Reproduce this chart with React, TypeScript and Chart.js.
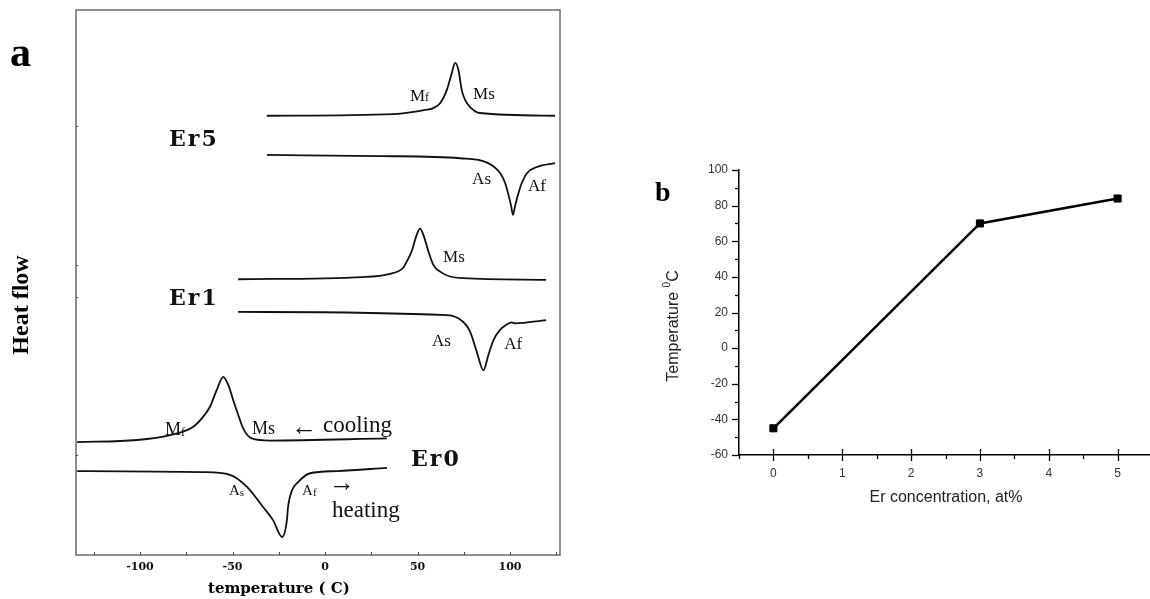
import React, { useEffect, useRef } from 'react';
import { Chart, registerables } from 'chart.js';
Chart.register(...registerables);

// ---------------- Panel a: DSC curves (temperature °C, heat flow a.u.) ----------------
const ER5_COOL_T = [-31.5, 36.9, 55, 58.5, 62.2, 65.8, 68.5, 70.3, 72.1, 73.9, 75.7, 78.4, 83.8, 124.3];
const ER5_COOL_H = [80.6, 80.9, 81.7, 82.0, 82.9, 85.3, 88.4, 90.3, 89.0, 85.3, 83.5, 82.2, 81.1, 80.6];
const ER5_HEAT_T = [-31.4, 30, 73, 87.6, 94.6, 97.3, 98.9, 100.5, 101.6, 102.7, 104.3, 106.5, 109.2, 114.6, 124.3];
const ER5_HEAT_H = [73.4, 73.2, 72.8, 72.0, 70.1, 68.3, 66.4, 64.2, 62.4, 64.0, 66.1, 68.4, 70.1, 71.2, 71.9];

const ER1_COOL_T = [-47, 20.5, 35.1, 42.2, 44.1, 46.8, 49.5, 51.4, 53.2, 55.9, 58.6, 62.2, 67.6, 74.8, 119.5];
const ER1_COOL_H = [50.6, 51.0, 51.6, 52.7, 53.8, 55.7, 58.7, 59.9, 58.7, 55.7, 53.2, 52.0, 51.1, 50.8, 50.5];
const ER1_HEAT_T = [-47, 66, 74.6, 78.4, 82, 85.6, 88.3, 91, 94.6, 98.2, 100.9, 102.7, 119.5];
const ER1_HEAT_H = [44.6, 44.0, 42.8, 41.0, 37.3, 33.9, 36.7, 39.4, 41.3, 42.3, 42.7, 42.5, 43.1];

const ER0_COOL_T = [-134, -101.6, -83.8, -71.4, -65.8, -62.2, -58.5, -55, -52.3, -49.6, -46.9, -44.2, -39.6, -29.7, 33.4];
const ER0_COOL_H = [20.7, 21.1, 22.0, 23.5, 25.4, 27.2, 30.3, 32.7, 31.2, 28.4, 25.7, 23.2, 21.4, 21.0, 21.4];
const ER0_HEAT_T = [-134, -66, -51.4, -42.2, -33.5, -28.1, -23.2, -20.6, -20, -17.8, -15.1, -8.1, 6.5, 33.5];
const ER0_HEAT_H = [15.4, 15.2, 14.7, 12.5, 8.8, 6.4, 3.3, 6.4, 8.8, 11.9, 13.2, 15.0, 15.4, 16.0];

const TEMP_MIN = -134.6;
const TEMP_MAX = 127;
const HEAT_MIN = 0;
const HEAT_MAX = 100;
const HEAT_TICKS = [18.3, 47.3, 53.2, 78.7];

// ---------------- Panel b: transformation temperature vs Er content ----------------
const ER_CONC = [0, 3, 5];
const TRANS_TEMP = [-45, 70, 84];

const SERIF = "'Liberation Serif', 'Times New Roman', serif";
const WSERIF = "'DejaVu Serif', serif";
const SANS = "'Liberation Sans', Arial, sans-serif";

type Seg = { t: string; size: number; dy?: number };
type Lab = { segs: Seg[]; t: number; h: number; font: string; weight: string; spacing?: string };

// Text annotations in panel a, placed in data coordinates (temperature, heat flow)
const LABELS_A: Lab[] = [
  { segs: [{ t: 'Er5', size: 22 }], t: -84.3, h: 75.0, font: WSERIF, weight: 'bold', spacing: '2px' },
  { segs: [{ t: 'Er1', size: 22 }], t: -84.3, h: 45.9, font: WSERIF, weight: 'bold', spacing: '2px' },
  { segs: [{ t: 'Er0', size: 22 }], t: 46.5, h: 16.3, font: WSERIF, weight: 'bold', spacing: '2px' },
  { segs: [{ t: 'M', size: 17 }, { t: 'f', size: 12 }], t: 45.9, h: 83.3, font: SERIF, weight: 'normal' },
  { segs: [{ t: 'Ms', size: 17 }], t: 80.0, h: 83.7, font: SERIF, weight: 'normal' },
  { segs: [{ t: 'As', size: 17 }], t: 79.5, h: 68.1, font: SERIF, weight: 'normal' },
  { segs: [{ t: 'Af', size: 17 }], t: 109.7, h: 66.8, font: SERIF, weight: 'normal' },
  { segs: [{ t: 'Ms', size: 17 }], t: 63.8, h: 53.8, font: SERIF, weight: 'normal' },
  { segs: [{ t: 'As', size: 17 }], t: 57.8, h: 38.3, font: SERIF, weight: 'normal' },
  { segs: [{ t: 'Af', size: 17 }], t: 96.8, h: 37.8, font: SERIF, weight: 'normal' },
  { segs: [{ t: 'M', size: 18 }, { t: 'f', size: 12, dy: 1 }], t: -86.5, h: 22.0, font: SERIF, weight: 'normal' },
  { segs: [{ t: 'Ms', size: 18 }], t: -39.5, h: 22.2, font: SERIF, weight: 'normal' },
  { segs: [{ t: '←', size: 26 }], t: -18.2, h: 22.0, font: SERIF, weight: 'normal' },
  { segs: [{ t: 'cooling', size: 23 }], t: -1.1, h: 22.6, font: SERIF, weight: 'normal' },
  { segs: [{ t: 'A', size: 15 }, { t: 's', size: 11, dy: 1 }], t: -51.9, h: 11.0, font: SERIF, weight: 'normal' },
  { segs: [{ t: 'A', size: 15 }, { t: 'f', size: 11, dy: 1 }], t: -12.4, h: 11.0, font: SERIF, weight: 'normal' },
  { segs: [{ t: '→', size: 26 }], t: 2.2, h: 11.7, font: SERIF, weight: 'normal' },
  { segs: [{ t: 'heating', size: 23 }], t: 3.8, h: 7.0, font: SERIF, weight: 'normal' },
];

function drawSegs(ctx: CanvasRenderingContext2D, segs: Seg[], x: number, y: number, family: string, weight: string, align: 'left' | 'center' = 'left') {
  let total = 0;
  segs.forEach((s) => {
    ctx.font = `${weight} ${s.size}px ${family}`;
    total += ctx.measureText(s.t).width;
  });
  let cx = align === 'center' ? x - total / 2 : x;
  ctx.textAlign = 'left';
  ctx.textBaseline = 'alphabetic';
  segs.forEach((s) => {
    ctx.font = `${weight} ${s.size}px ${family}`;
    ctx.fillText(s.t, cx, y + (s.dy || 0));
    cx += ctx.measureText(s.t).width;
  });
}

function line(ctx: CanvasRenderingContext2D, x1: number, y1: number, x2: number, y2: number) {
  ctx.beginPath();
  ctx.moveTo(x1, y1);
  ctx.lineTo(x2, y2);
  ctx.stroke();
}

const panelAPlugin = {
  id: 'panelA',
  afterDraw(chart: any) {
    const { ctx, chartArea: ca, scales } = chart;
    const x = scales.x;
    const y = scales.y;
    ctx.save();
    ctx.strokeStyle = '#6a6a6a';
    ctx.lineWidth = 1.5;
    ctx.strokeRect(ca.left, ca.top, ca.right - ca.left, ca.bottom - ca.top);
    ctx.strokeStyle = '#444';
    ctx.lineWidth = 1;
    x.ticks.forEach((t: any) => {
      const px = Math.round(x.getPixelForValue(t.value)) + 0.5;
      line(ctx, px, ca.bottom, px, ca.bottom - 3);
    });
    y.ticks.forEach((t: any) => {
      const py = Math.round(y.getPixelForValue(t.value)) + 0.5;
      line(ctx, ca.left, py, ca.left + 2, py);
    });
    ctx.fillStyle = '#111';
    LABELS_A.forEach((l) => {
      (ctx as any).letterSpacing = l.spacing || '0px';
      drawSegs(ctx, l.segs, x.getPixelForValue(l.t), y.getPixelForValue(l.h), l.font, l.weight);
    });
    (ctx as any).letterSpacing = '0px';
    // panel letter
    ctx.fillStyle = '#000';
    drawSegs(ctx, [{ t: 'a', size: 42 }], 10, 66, SERIF, 'bold');
    // x title
    drawSegs(ctx, [{ t: 'temperature ( C)', size: 15 }], 208, 593, WSERIF, 'bold');
    // y title
    ctx.save();
    ctx.translate(28, 305);
    ctx.rotate(-Math.PI / 2);
    drawSegs(ctx, [{ t: 'Heat flow', size: 24 }], 0, 0, SERIF, 'bold', 'center');
    ctx.restore();
    ctx.restore();
  },
};

const panelBPlugin = {
  id: 'panelB',
  afterDraw(chart: any) {
    const { ctx, chartArea: ca, scales } = chart;
    const x = scales.x;
    const y = scales.y;
    ctx.save();
    ctx.strokeStyle = '#000';
    ctx.lineWidth = 1.3;
    y.ticks.forEach((t: any) => {
      const py = Math.round(y.getPixelForValue(t.value)) + 0.5;
      const len = t.value % 20 === 0 ? 7 : 4;
      line(ctx, ca.left, py, ca.left - len, py);
    });
    x.ticks.forEach((t: any) => {
      const px = Math.round(x.getPixelForValue(t.value)) + 0.5;
      if (Number.isInteger(t.value)) line(ctx, px, ca.bottom - 6, px, ca.bottom + 6);
      else line(ctx, px, ca.bottom, px, ca.bottom + 4);
    });
    ctx.fillStyle = '#222';
    drawSegs(ctx, [{ t: 'Er concentration, at%', size: 16 }], 306, 362, SANS, 'normal', 'center');
    ctx.save();
    ctx.translate(38, 186);
    ctx.rotate(-Math.PI / 2);
    drawSegs(ctx, [{ t: 'Temperature ', size: 16 }, { t: '0', size: 10, dy: -8 }, { t: 'C', size: 16 }], 0, 0, SANS, 'normal', 'center');
    ctx.restore();
    ctx.fillStyle = '#000';
    drawSegs(ctx, [{ t: 'b', size: 28 }], 15, 61, SERIF, 'bold');
    ctx.restore();
  },
};

function toXY(xs: number[], ys: number[]) {
  return xs.map((v, i) => ({ x: v, y: ys[i] }));
}

function curve(xs: number[], ys: number[]) {
  return {
    data: toXY(xs, ys),
    borderColor: '#111',
    borderWidth: 1.8,
    pointRadius: 0,
    fill: false,
    cubicInterpolationMode: 'monotone' as const,
  };
}

export default function App() {
  const refA = useRef<HTMLCanvasElement>(null);
  const refB = useRef<HTMLCanvasElement>(null);

  useEffect(() => {
    const chartA = new Chart(refA.current as HTMLCanvasElement, {
      type: 'line',
      data: {
        datasets: [
          curve(ER5_COOL_T, ER5_COOL_H),
          curve(ER5_HEAT_T, ER5_HEAT_H),
          curve(ER1_COOL_T, ER1_COOL_H),
          curve(ER1_HEAT_T, ER1_HEAT_H),
          curve(ER0_COOL_T, ER0_COOL_H),
          curve(ER0_HEAT_T, ER0_HEAT_H),
        ],
      },
      options: {
        animation: false,
        responsive: false,
        devicePixelRatio: 1,
        layout: { padding: { left: 0, top: 10, right: 40, bottom: 0 } },
        plugins: { legend: { display: false }, tooltip: { enabled: false } },
        scales: {
          x: {
            type: 'linear',
            min: TEMP_MIN,
            max: TEMP_MAX,
            grid: { display: false, drawTicks: false },
            border: { display: false },
            ticks: {
              stepSize: 25,
              includeBounds: false,
              autoSkip: false,
              maxRotation: 0,
              padding: 6,
              color: '#111',
              font: { family: WSERIF, weight: 'bold', size: 11 },
              callback: (v: any) => (Number(v) % 50 === 0 ? String(v) : ''),
            },
            afterFit: (s: any) => {
              s.height = 44;
            },
          },
          y: {
            type: 'linear',
            min: HEAT_MIN,
            max: HEAT_MAX,
            grid: { display: false, drawTicks: false },
            border: { display: false },
            ticks: { display: false },
            afterBuildTicks: (s: any) => {
              s.ticks = HEAT_TICKS.map((v) => ({ value: v }));
            },
            afterFit: (s: any) => {
              s.width = 76;
            },
          },
        },
      },
      plugins: [panelAPlugin],
    } as any);

    const chartB = new Chart(refB.current as HTMLCanvasElement, {
      type: 'line',
      data: {
        datasets: [
          {
            data: toXY(ER_CONC, TRANS_TEMP),
            borderColor: '#000',
            borderWidth: 2.5,
            pointStyle: 'rect',
            pointRadius: 5,
            pointBackgroundColor: '#000',
            pointBorderColor: '#000',
            pointBorderWidth: 1,
            tension: 0,
          },
        ],
      },
      options: {
        animation: false,
        responsive: false,
        devicePixelRatio: 1,
        layout: { padding: { left: 0, top: 30, right: 13, bottom: 0 } },
        plugins: { legend: { display: false }, tooltip: { enabled: false } },
        scales: {
          x: {
            type: 'linear',
            min: -0.5,
            max: 5.5,
            grid: { display: false, drawTicks: false },
            border: { display: true, color: '#000', width: 1.5 },
            ticks: {
              stepSize: 0.5,
              includeBounds: false,
              autoSkip: false,
              maxRotation: 0,
              padding: 11,
              color: '#333',
              font: { family: SANS, size: 12 },
              callback: (v: any) => (Number.isInteger(Number(v)) ? String(v) : ''),
            },
            afterFit: (s: any) => {
              s.height = 144;
            },
          },
          y: {
            type: 'linear',
            min: -60,
            max: 100,
            grid: { display: false, drawTicks: false },
            border: { display: true, color: '#000', width: 1.5 },
            ticks: {
              stepSize: 10,
              autoSkip: false,
              padding: 11,
              color: '#333',
              font: { family: SANS, size: 12 },
              callback: (v: any) => (Number(v) % 20 === 0 ? String(v) : ''),
            },
            afterFit: (s: any) => {
              s.width = 99;
            },
          },
        },
      },
      plugins: [panelBPlugin],
    } as any);

    return () => {
      chartA.destroy();
      chartB.destroy();
    };
  }, []);

  return (
    <div style={{ position: 'absolute', left: 0, top: 0, width: 1150, height: 599, overflow: 'hidden', background: '#fff' }}>
      <canvas ref={refA} width={600} height={599} style={{ position: 'absolute', left: 0, top: 0, width: 600, height: 599 }} />
      <canvas ref={refB} width={525} height={459} style={{ position: 'absolute', left: 640, top: 140, width: 525, height: 459 }} />
    </div>
  );
}
